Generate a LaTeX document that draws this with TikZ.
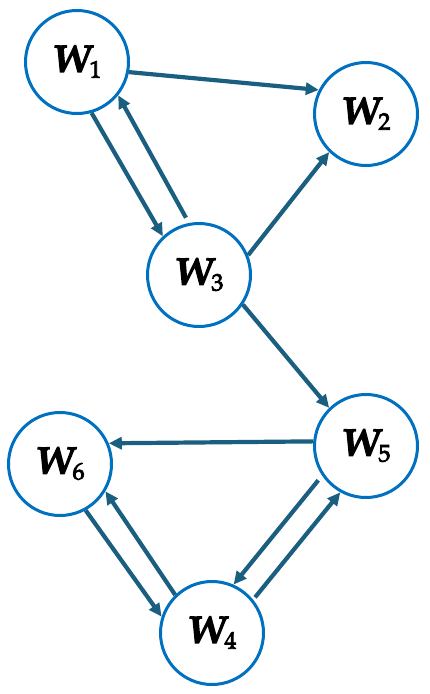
\documentclass[tikz,border=0pt]{standalone}
\usepackage[T1]{fontenc}
\usetikzlibrary{arrows.meta}
\definecolor{nodeblue}{RGB}{0,112,192}
\definecolor{arrowteal}{RGB}{26,94,128}
\tikzset{
  wnode/.style={circle, draw=nodeblue, line width=3pt, fill=white, minimum size=103pt, inner sep=0pt},
  conn/.style={draw=arrowteal, line width=4.2pt, -{Triangle[length=13pt,width=12pt]}},
}
\newcommand{\fakebold}[2]{\special{pdf:literal direct 2 Tr #1 w 0 G}#2\special{pdf:literal direct 0 Tr}}
\newcommand{\wlab}[1]{\fontencoding{T1}\fontfamily{ppl}\fontsize{38}{42}\selectfont
  \fakebold{1.4}{{\bfseries\itshape W}}\kern-1pt\raisebox{-6pt}{\fontsize{24}{26}\selectfont\fakebold{0.8}{#1}}}
\begin{document}
\begin{tikzpicture}[x=1pt,y=-1pt]
\useasboundingbox (0,0) rectangle (430,694);
\node[wnode] (W1) at (77,62) {\wlab{1}};
\node[wnode] (W2) at (366,114) {\wlab{2}};
\node[wnode] (W3) at (199,275) {\wlab{3}};
\node[wnode] (W5) at (366,446) {\wlab{5}};
\node[wnode] (W6) at (60,464) {\wlab{6}};
\node[wnode] (W4) at (212,633) {\wlab{4}};
\draw[conn] (W1.-11) -- (W2.153);
\draw[conn] (W1.-74) -- (W3.133);
\draw[conn, shorten <=6pt] (W3.101) -- (W1.-39);
\draw[conn] (W3.22) -- (W2.-134);
\draw[conn] (W3.-34) -- (W5.134);
\draw[conn] (W5.175) -- (W6.23);
\draw[conn, shorten <=6pt] (W5.-146) -- (W4.66);
\draw[conn, shorten <=3pt] (W4.39) -- (W5.-119);
\draw[conn] (W6.-61) -- (W4.162);
\draw[conn] (W4.134) -- (W6.-31);
\end{tikzpicture}
\end{document}
